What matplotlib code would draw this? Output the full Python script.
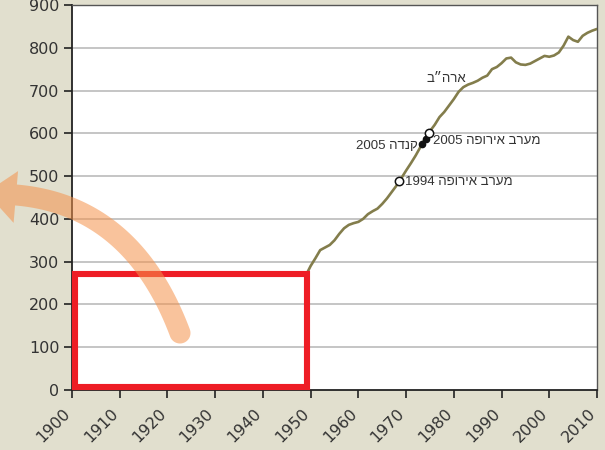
import numpy as np
import matplotlib
matplotlib.use("Agg")
import matplotlib.pyplot as plt
from matplotlib.patches import Rectangle, Polygon
from matplotlib.transforms import ScaledTranslation

plt.rcParams['font.family'] = ['DejaVu Sans']

# ---- data ----
years = [1949, 1950, 1951, 1952, 1953, 1954, 1955, 1956, 1957, 1958, 1959,
         1960, 1961, 1962, 1963, 1964, 1965, 1966, 1967, 1968, 1969,
         1970, 1971, 1972, 1973, 1974, 1975, 1976, 1977, 1978, 1979,
         1980, 1981, 1982, 1983, 1984, 1985, 1986, 1987, 1988, 1989,
         1990, 1991, 1992, 1993, 1994, 1995, 1996, 1997, 1998, 1999,
         2000, 2001, 2002, 2003, 2004, 2005, 2006, 2007, 2008, 2009, 2010]
usa = [268, 290, 308, 327, 333, 339, 350, 365, 378, 386, 390,
       393, 400, 411, 418, 424, 435, 448, 463, 478, 495,
       513, 530, 548, 568, 588, 605, 620, 638, 650, 665,
       680, 697, 708, 714, 718, 723, 730, 735, 750, 755,
       764, 775, 777, 766, 761, 760, 763, 769, 775, 781,
       779, 782, 789, 805, 826, 818, 814, 828, 835, 840, 844]

open_pts_x = [1968.5, 1974.8]
open_pts_y = [488, 601]
filled_pts_x = [1974.2, 1973.4]
filled_pts_y = [586, 574]

label_usa = 'ארה״ב'
label_we2005 = 'מערב אירופה'
label_canada = 'קנדה'
label_we1994 = 'מערב אירופה'

xticks = list(range(1900, 2011, 10))
yticks = list(range(0, 901, 100))


def vis(heb, num=None):
    # matplotlib renders left-to-right: give Hebrew in visual order
    r = heb[::-1]
    return (num + ' ' + r) if num else r


W, H = 605, 450
fig = plt.figure(figsize=(W / 100, H / 100), dpi=100)
bg = '#E1DFCE'
fig.patch.set_facecolor(bg)
ax = fig.add_axes([72 / W, 60 / H, 525 / W, 385 / H])
ax.set_facecolor('white')

ax.set_xlim(1900, 2010)
ax.set_ylim(0, 900)
ax.set_xticks(xticks)
ax.set_yticks(yticks)
ax.set_xticklabels([str(x) for x in xticks], rotation=45, ha='right',
                   va='center', rotation_mode='anchor')
ax.tick_params(axis='both', direction='out', length=6, width=1.2,
               color='#222222', labelsize=11.5, labelcolor='#333333', pad=3)
ax.tick_params(axis='x', pad=9)
off = ScaledTranslation(-4 / 100, 0, fig.dpi_scale_trans)
for lab in ax.get_xticklabels():
    lab.set_transform(lab.get_transform() + off)

for y in yticks[1:-1]:
    ax.axhline(y, color='#C0C0C0', lw=1.3, zorder=1)

for s in ['left', 'bottom']:
    ax.spines[s].set_color('#222222')
    ax.spines[s].set_linewidth(1.3)
for s in ['top', 'right']:
    ax.spines[s].set_color('#555555')
    ax.spines[s].set_linewidth(1.0)

ax.plot(years, usa, color='#837D4C', lw=1.9, zorder=3, solid_capstyle='round')
ax.plot(filled_pts_x, filled_pts_y, 'o', ms=4.5, color='#111111', zorder=4)
ax.plot(open_pts_x, open_pts_y, 'o', ms=6, mfc='white', mec='#111111',
        mew=1.1, zorder=5)

tc = '#333333'
fs = 9.5
hfam = ['Liberation Sans', 'DejaVu Sans']
ax.text(1978.4, 727, vis(label_usa), ha='center', va='center', fontsize=fs,
        color=tc, family=hfam)
ax.text(1975.6, 581, vis(label_we2005, '2005'), ha='left', va='center',
        fontsize=fs, color=tc, family=hfam)
ax.text(1972.4, 570, vis(label_canada, '2005'), ha='right', va='center',
        fontsize=fs, color=tc, family=hfam)
ax.text(1969.7, 487, vis(label_we1994, '1994'), ha='left', va='center',
        fontsize=fs, color=tc, family=hfam)

# red highlight box
rect = Rectangle((1900.6, 6), 1949.3 - 1900.6, 271 - 6, fill=False,
                 edgecolor='#EE1D25', lw=4.4, zorder=6, clip_on=False,
                 joinstyle='miter')
ax.add_patch(rect)

# orange curved arrow (decoration), built in pixel coords (y down)
P0 = np.array([180.0, 333.0])
P1 = np.array([132.0, 205.0])
P2 = np.array([16.0, 195.0])
t = np.linspace(0, 1, 80)[:, None]
B = (1 - t) ** 2 * P0 + 2 * (1 - t) * t * P1 + t ** 2 * P2
D = 2 * (1 - t) * (P1 - P0) + 2 * t * (P2 - P1)
D = D / np.linalg.norm(D, axis=1)[:, None]
N = np.column_stack([-D[:, 1], D[:, 0]])
w = 10.5
left = B + N * w
right = B - N * w
dend = D[-1]
nend = N[-1]
tip = P2 + dend * 30
barbL = P2 + nend * 24
barbR = P2 - nend * 28
a0 = np.arctan2(N[0, 1], N[0, 0])
pts = np.vstack([left, [barbL, tip, barbR], right[::-1]])
ang2 = np.linspace(a0 + np.pi, a0, 30)
capc = P0 + w * np.column_stack([np.cos(ang2), np.sin(ang2)])
pts = np.vstack([pts, capc])
figpts = np.column_stack([pts[:, 0] / W, 1 - pts[:, 1] / H])
arrow = Polygon(figpts, closed=True, transform=fig.transFigure,
                facecolor='#F5924B', edgecolor='none', alpha=0.55, zorder=10)
fig.patches.append(arrow)

fig.savefig('out.png', dpi=100, facecolor=bg)
